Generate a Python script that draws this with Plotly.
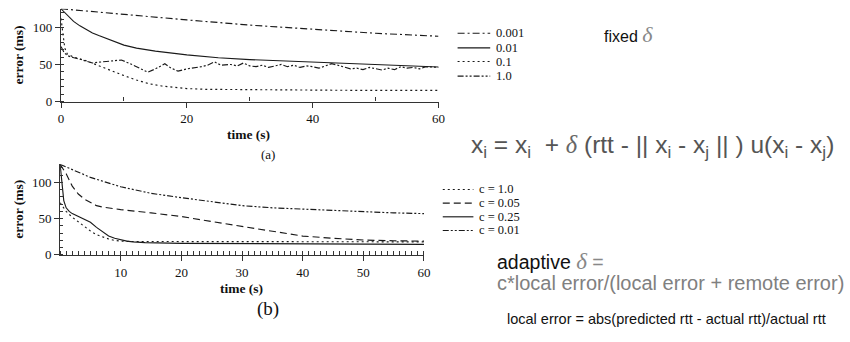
import plotly.graph_objects as go

W, H = 850, 342

# ---------------- top panel: fixed delta ----------------
fixed_names = ["0.001", "0.01", "0.1", "1.0"]

t_a001 = [0, 10, 20, 30, 40, 50, 60]
v_a001 = [125, 117, 110, 103, 97, 92, 88]

t_a01 = [0, 1, 2, 3, 4, 5, 6, 8, 10, 12, 15, 20, 25, 30, 35, 40, 45, 50, 55, 60]
v_a01 = [125, 117, 108, 102, 97, 92.5, 89, 82, 76, 72, 68, 63, 59, 56.5, 55, 53.5, 51.5, 50, 48.5, 46.5]

t_a1 = [0, 0.3, 0.6, 1, 2, 4, 6, 8, 10, 12, 14, 16, 18, 20, 23, 28, 35, 45, 55, 60]
v_a1 = [112, 90, 72, 64, 60, 55, 48, 42, 35, 29, 24, 21, 19, 17.5, 16.5, 16, 15.5, 15.2, 15, 15]

t_a10 = [0, 0.5, 1, 1.6, 3, 4, 5, 6, 7.5, 9, 9.6, 11, 12, 12.8, 13.8, 15, 16, 16.5, 17.5, 18.6,
         20, 21, 22.3, 23.3, 24.4, 25.4, 27, 28, 29, 30, 31, 32, 33, 34, 35, 36, 37, 38, 39, 40,
         41, 42, 43, 44, 45, 46, 47, 48, 49, 50, 51, 52, 53, 54, 55, 56, 57, 58, 59, 60]
v_a10 = [74, 66, 62, 60, 57, 55, 52, 53, 54, 55.5, 56, 51, 47, 43, 39.5, 44, 49, 51, 45, 41,
         44, 45, 47, 49, 53.5, 49, 50, 48, 52, 48, 47, 49, 46, 48, 50, 47, 49, 46, 48, 47,
         45, 48, 51, 49, 46, 44, 45, 43, 46, 44, 42.5, 45, 43, 47, 45, 46, 44, 47, 46, 46]

# ---------------- bottom panel: adaptive delta ----------------
adapt_names = ["c = 1.0", "c = 0.05", "c = 0.25", "c = 0.01"]

t_c1 = [0, 1, 2, 3, 4, 5, 6, 7, 8, 9, 10, 12, 15, 20, 30, 40, 50, 60]
v_c1 = [72, 60, 52, 45.5, 39, 33, 28, 24.5, 22, 20, 19, 18.5, 18.5, 18.5, 18.5, 18.5, 18, 18]

t_c005 = [0, 1, 2, 3, 4, 5, 6, 7, 8, 10, 15, 20, 25, 30, 35, 40, 45, 50, 55, 60]
v_c005 = [125, 112, 95, 84, 77, 72, 68, 66, 64.5, 62.5, 58, 53, 46, 39, 32, 26, 23, 20.5, 19.5, 19]

t_c025 = [0, 0.3, 0.6, 1, 1.5, 2, 3, 4, 5, 6, 7, 8, 9, 10, 11, 12, 14, 20, 30, 40, 50, 60]
v_c025 = [125, 100, 75, 65, 60, 57, 53, 49, 45, 38, 32, 26, 23, 20.5, 19, 18, 17, 16, 15.5, 15, 15, 14.5]

t_c001 = [0, 2, 5, 10, 15, 20, 25, 30, 35, 40, 45, 50, 55, 60]
v_c001 = [125, 118, 107, 94, 85, 79, 73, 68, 65, 63, 61, 59, 58, 57]

top_x_ticks = [0, 20, 40, 60]
top_x_minor = [10, 30, 50]
bot_x_ticks = [10, 20, 30, 40, 50, 60]
y_ticks = [0, 50, 100]

DASHDOT = "7px,3px,2px,3px"
DOT = "2px,3px"
DASH = "7px,4px"
DDOT = "6px,2px,2px,2px,2px,2px"

top_series = [(t_a001, v_a001, DASHDOT), (t_a01, v_a01, "solid"),
              (t_a1, v_a1, DOT), (t_a10, v_a10, DDOT)]
bot_series = [(t_c1, v_c1, DOT), (t_c005, v_c005, DASH),
              (t_c025, v_c025, "solid"), (t_c001, v_c001, DDOT)]

LC = "#1a1a1a"
LW = 1.15
SERIF = "Liberation Serif"
SANS = "Liberation Sans"

fig = go.Figure()
for (t, v, d), name in zip(top_series, fixed_names):
    fig.add_trace(go.Scatter(x=t, y=v, mode="lines", name=name, showlegend=False,
                             line=dict(color=LC, width=LW, dash=d), xaxis="x", yaxis="y"))
for (t, v, d), name in zip(bot_series, adapt_names):
    fig.add_trace(go.Scatter(x=t, y=v, mode="lines", name=name, showlegend=False,
                             line=dict(color=LC, width=LW, dash=d), xaxis="x2", yaxis="y2"))


def px(x):
    return x / W


def py(y):
    return 1 - y / H


axcommon = dict(showline=True, linecolor="#333", linewidth=1.2, showgrid=False, zeroline=False,
                ticks="outside", ticklen=5, tickcolor="#333",
                tickfont=dict(family=SERIF, size=13, color="#111"))

fig.update_layout(
    width=W, height=H, margin=dict(l=0, r=0, t=0, b=0),
    paper_bgcolor="white", plot_bgcolor="white",
    xaxis=dict(domain=[px(58.7), px(440.7)], range=[0, 60], tickvals=top_x_ticks,
               minor=dict(tickvals=top_x_minor, ticks="inside", ticklen=4, tickcolor="#333"),
               anchor="y", **axcommon),
    yaxis=dict(domain=[py(104), py(9)], range=[0, 125], tickvals=y_ticks,
               minor=dict(dtick=10, ticks="inside", ticklen=3, tickcolor="#333"),
               anchor="x", **axcommon),
    xaxis2=dict(domain=[px(57.8), px(426)], range=[0, 60], tickvals=bot_x_ticks,
                minor=dict(dtick=1, ticks="inside", ticklen=4, tickcolor="#333"),
                anchor="y2", **axcommon),
    yaxis2=dict(domain=[py(261), py(168.3)], range=[0, 125], tickvals=y_ticks,
                minor=dict(dtick=10, ticks="inside", ticklen=3, tickcolor="#333"),
                anchor="x2", **axcommon),
)

ann = []
shapes = []


def note(x, y, text, size, family=SERIF, color="#111", xanchor="center", angle=0):
    ann.append(dict(x=px(x), y=py(y), xref="paper", yref="paper", text=text,
                    xanchor=xanchor, yanchor="middle", textangle=angle, showarrow=False,
                    font=dict(family=family, size=size, color=color)))


# axis titles and panel labels
for yc in (56, 214):
    note(16, yc, "<b>error (ms)</b>", 13.5, angle=-90)
note(248, 138, "<b>time (s)</b>", 13.5)
note(241, 295, "<b>time (s)</b>", 13.5)
note(268, 158, "(a)", 13)
note(268, 316, "(b)", 19)

# legends
top_leg_y = [34, 49, 63, 78]
for (t, v, d), name, yy in zip(top_series, fixed_names, top_leg_y):
    shapes.append(dict(type="line", xref="paper", yref="paper", x0=px(460), x1=px(493),
                       y0=py(yy), y1=py(yy), line=dict(color=LC, width=LW, dash=d)))
    note(497, yy, name, 12.5, xanchor="left")
bot_leg_y = [194, 208, 222, 236]
for (t, v, d), name, yy in zip(bot_series, adapt_names, bot_leg_y):
    shapes.append(dict(type="line", xref="paper", yref="paper", x0=px(445), x1=px(476),
                       y0=py(yy), y1=py(yy), line=dict(color=LC, width=LW, dash=d)))
    note(480, yy, name, 12.5, xanchor="left")

DELTA = "<span style='font-family:Liberation Serif;font-style:italic;color:#888'>δ</span>"
note(606, 35, "fixed " + DELTA.replace("color:#888", "color:#888;font-size:22px"), 16,
     family=SANS, xanchor="left")
formula = ("x<sub>i</sub> = x<sub>i</sub>  + " + DELTA.replace("color:#888", "color:#666") +
           " (rtt - || x<sub>i</sub> - x<sub>j</sub> || ) u(x<sub>i</sub> - x<sub>j</sub>)")
note(472, 150, formula, 24.5, family=SANS, color="#555", xanchor="left")
note(498, 268, "adaptive <span style='color:#888'>" +
     DELTA.replace("color:#888", "color:#888;font-size:23px") + " =</span>", 19.5,
     family=SANS, xanchor="left")
note(498, 290, "c*local error/(local error + remote error)", 20, family=SANS,
     color="#808080", xanchor="left")
note(508, 327, "local error = abs(predicted rtt - actual rtt)/actual rtt", 14.5,
     family=SANS, xanchor="left")

fig.update_layout(annotations=ann, shapes=shapes)
fig.write_html("out.html")
